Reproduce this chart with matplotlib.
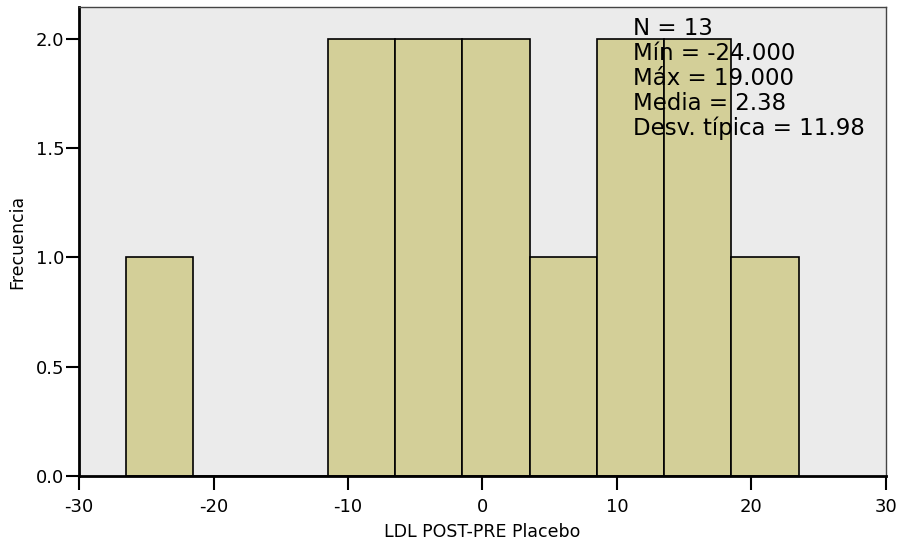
import numpy as np
import matplotlib
matplotlib.use('Agg')
from matplotlib import pyplot as plt

# Histogram bins (width 5) and counts
bin_edges = [-26.5, -21.5, -16.5, -11.5, -6.5, -1.5, 3.5, 8.5, 13.5, 18.5, 23.5]
counts = [1, 0, 0, 2, 2, 2, 1, 2, 2, 1]
x_ticks = [-30, -20, -10, 0, 10, 20, 30]
x_tick_labels = ['-30', '-20', '-10', '0', '10', '20', '30']
y_ticks = [0.0, 0.5, 1.0, 1.5, 2.0]
y_tick_labels = ['0.0', '0.5', '1.0', '1.5', '2.0']
stats_lines = ['N = 13', 'Mín = -24.000', 'Máx = 19.000', 'Media = 2.38',
               'Desv. típica = 11.98']

plt.rcParams['font.family'] = ['DejaVu Sans']

fig = plt.figure(figsize=(9.02, 5.43), dpi=100)
ax = fig.add_axes([0.0876, 0.1234, 0.8946, 0.8636])
ax.set_facecolor('#EBEBEB')

edges = np.array(bin_edges)
ax.bar(edges[:-1], counts, width=np.diff(edges), align='edge',
       color='#D3CF98', edgecolor='black', linewidth=1.2, zorder=2)

ax.set_xlim(-30, 30)
ax.set_ylim(0, 2.146)
ax.set_xticks(x_ticks)
ax.set_xticklabels(x_tick_labels)
ax.set_yticks(y_ticks)
ax.set_yticklabels(y_tick_labels)
ax.tick_params(axis='x', direction='out', length=10, width=1.5, labelsize=13, pad=6)
ax.tick_params(axis='y', direction='out', length=9.5, width=1.5, labelsize=13, pad=1)

for side in ['left', 'bottom']:
    ax.spines[side].set_linewidth(2)
for side in ['top', 'right']:
    ax.spines[side].set_linewidth(1)
    ax.spines[side].set_color('#444444')

ax.set_xlabel('LDL POST-PRE Placebo', fontsize=12.5, labelpad=5)
ax.set_ylabel('Frecuencia', fontsize=12.5, labelpad=7)

ax.text(11.2, 2.1, '\n'.join(stats_lines), fontsize=16.5, va='top', ha='left',
        linespacing=1.1, zorder=3)

fig.savefig('out.png', dpi=100)
